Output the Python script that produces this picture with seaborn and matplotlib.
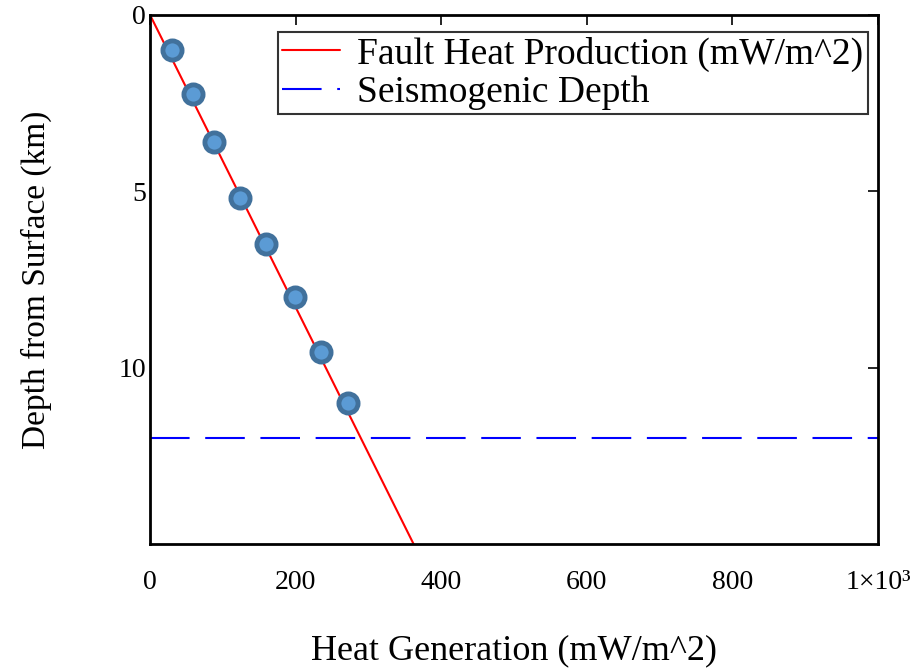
import numpy as np
import pandas as pd
import matplotlib
matplotlib.use('Agg')
import matplotlib.pyplot as plt
import seaborn as sns

# fault heat production line (heat in mW/m^2, depth in km)
line_depth = [0.0, 15.0]
line_heat = [0.0, 362.0]

# sampled points along the fault
pt_depth = [1.0, 2.25, 3.6, 5.2, 6.5, 8.0, 9.55, 11.0]
pt_heat = [30, 59, 88, 124, 159, 199, 235, 272]

seis_depth = 12.0

x_ticks = [0, 200, 400, 600, 800, 1000]
x_ticklabels = ['0', '200', '400', '600', '800', '1×10³']
y_ticks = [0, 5, 10]

sns.set_style('white')
plt.rcParams['font.family'] = ['Liberation Serif', 'DejaVu Serif']
plt.rcParams['text.color'] = 'black'
plt.rcParams['axes.labelcolor'] = 'black'

fig = plt.figure(figsize=(9.15, 6.68), dpi=100)
ax = fig.add_axes([0.164, 0.1856, 0.7956, 0.792])

line_df = pd.DataFrame({'heat': line_heat, 'depth': line_depth})
pts_df = pd.DataFrame({'heat': pt_heat, 'depth': pt_depth})

sns.lineplot(data=line_df, x='heat', y='depth', color='red', lw=1.5,
             sort=False, ax=ax, label='Fault Heat Production (mW/m^2)')
ax.axhline(seis_depth, color='blue', lw=1.5, dashes=(19, 7.5),
           label='Seismogenic Depth')
sns.scatterplot(data=pts_df, x='heat', y='depth', s=190, color='#5b9bd5',
                edgecolor='#41719c', linewidth=3.5, zorder=5, ax=ax, legend=False)

ax.set_xlim(0, 1000)
ax.set_ylim(15, 0)
ax.set_xticks(x_ticks)
ax.set_xticklabels(x_ticklabels)
ax.set_yticks(y_ticks)
ax.tick_params(direction='in', length=7, width=1.2, top=True, right=True,
               labelsize=20, colors='black')
ax.tick_params(axis='x', pad=19)
ax.tick_params(axis='y', pad=3)
for s in ax.spines.values():
    s.set_color('black')
    s.set_linewidth(2)

ax.set_xlabel('Heat Generation (mW/m^2)', fontsize=26, labelpad=28)
ax.set_ylabel('Depth from Surface (km)', fontsize=24, labelpad=48)

leg = ax.legend(loc='upper right', bbox_to_anchor=(0.986, 0.968),
                fontsize=27, frameon=True, fancybox=False,
                edgecolor='black', handlelength=1.55, handletextpad=0.45,
                borderaxespad=0, borderpad=0.12, labelspacing=0.1)
leg.get_frame().set_linewidth(1.5)

fig.savefig('out.png', dpi=100)
